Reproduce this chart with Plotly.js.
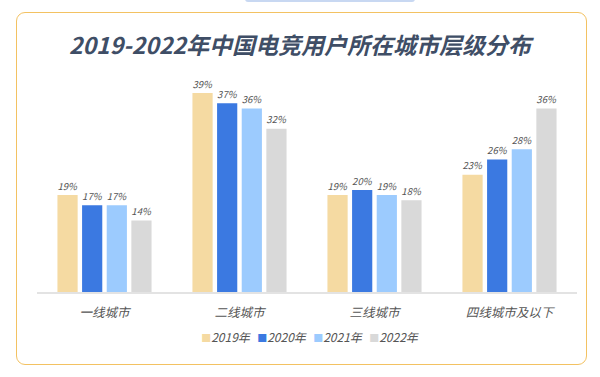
<!DOCTYPE html>
<html>
<head>
<meta charset="utf-8">
<script src="https://cdn.plot.ly/plotly-3.0.1.min.js"></script>
<style>
html,body{margin:0;padding:0;background:#fff;}
#wrap{position:relative;width:600px;height:377px;overflow:hidden;}
#frame{position:absolute;left:16px;top:12px;width:569px;height:351px;border:1.5px solid #F3C262;border-radius:9px;box-sizing:content-box;}
#tab{position:absolute;left:245px;top:-2px;width:170px;height:4px;background:#C8D8F2;border-radius:0 0 3px 3px;}
#chart{position:absolute;left:0;top:0;width:600px;height:377px;}
</style>
</head>
<body>
<div id="wrap">
  <div id="frame"></div>
  <div id="tab"></div>
  <div id="chart"></div>
</div>
<script>
const categories = ['一线城市', '二线城市', '三线城市', '四线城市及以下'];
const seriesNames = ['2019年', '2020年', '2021年', '2022年'];
const v2019 = [19, 39, 19, 23];
const v2020 = [17, 37, 20, 26];
const v2021 = [17, 36, 19, 28];
const v2022 = [14, 32, 18, 36];
const colors = ['#F5DAA2', '#3B79E1', '#9CCBFE', '#D9D9D9'];

const seriesValues = [v2019, v2020, v2021, v2022];
const fontFam = '"Noto Sans CJK SC", "Noto Sans", sans-serif';

const traces = seriesValues.map((vals, i) => ({
  type: 'bar',
  name: '<span style="color:' + colors[i] + ';font-size:10px;font-style:normal">■</span>' + seriesNames[i],
  x: categories,
  y: vals,
  marker: {color: colors[i]},
  text: vals.map(v => v + '%'),
  textposition: 'outside',
  cliponaxis: false,
  textfont: {family: fontFam, size: 12, color: '#555', style: 'italic'},
  showlegend: true,
  hoverinfo: 'skip'
}));

const layout = {
  width: 600,
  height: 377,
  paper_bgcolor: 'rgba(0,0,0,0)',
  plot_bgcolor: 'rgba(0,0,0,0)',
  margin: {l: 37, r: 23, t: 88, b: 85},
  title: {
    text: '<b>2019-2022年中国电竞用户所在城市层级分布</b>',
    x: 0.5, xref: 'container', xanchor: 'center',
    y: 1 - 46/377, yref: 'container', yanchor: 'middle',
    font: {family: fontFam, size: 23, color: '#3F4E66', style: 'italic'}
  },
  barmode: 'group',
  bargap: 0.27,
  bargroupgap: 0.18,
  xaxis: {
    type: 'category',
    showgrid: false,
    zeroline: false,
    showline: true,
    linecolor: '#E3E3E3',
    linewidth: 1.5,
    ticks: '',
    ticklabelstandoff: 8,
    tickfont: {family: fontFam, size: 12.5, color: '#555', style: 'italic'},
    fixedrange: true
  },
  yaxis: {
    range: [0, 40],
    visible: false,
    fixedrange: true
  },
  showlegend: true,
  legend: {
    orientation: 'h',
    x: 0.23, xanchor: 'left',
    y: -0.22, yanchor: 'middle',
    font: {family: fontFam, size: 12, color: '#555', style: 'italic'},
    itemwidth: 30,
    entrywidth: 11,
    entrywidthmode: 'pixels',
    tracegroupgap: 0,
    bgcolor: 'rgba(0,0,0,0)',
    traceorder: 'normal'
  }
};

Plotly.newPlot('chart', traces, layout, {displayModeBar: false, staticPlot: true}).then(() => {
  // hide the library's own swatches; the coloured square is part of each legend label
  document.querySelectorAll('.legend .legendpoints').forEach(el => el.style.display = 'none');
  document.querySelectorAll('.legend [clip-path]').forEach(el => el.removeAttribute('clip-path'));
});
</script>
</body>
</html>
